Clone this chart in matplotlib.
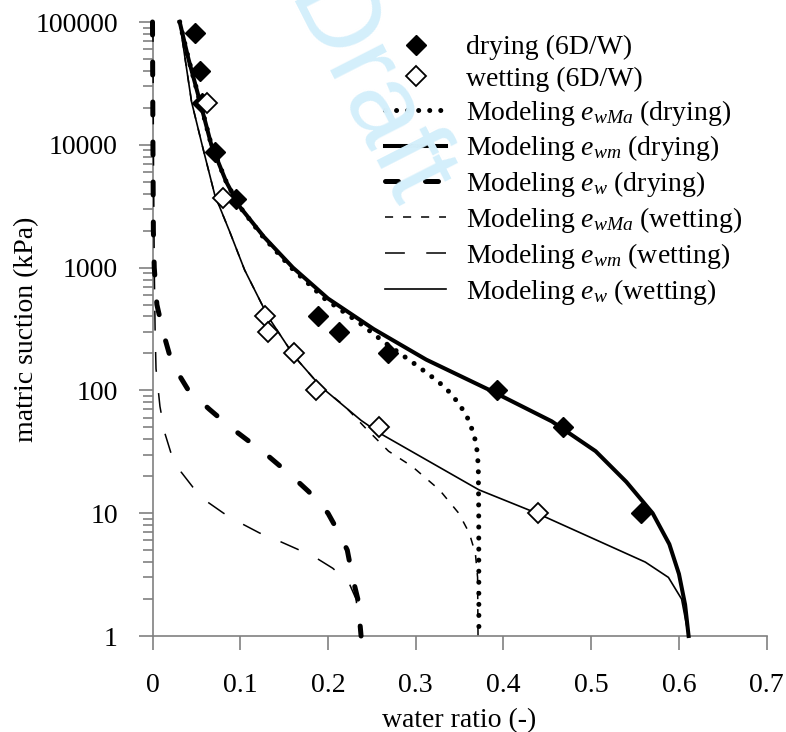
import matplotlib
matplotlib.use("Agg")
import matplotlib.pyplot as plt
from matplotlib.ticker import FixedLocator, LogLocator, NullFormatter

plt.rcParams['font.family'] = ['Liberation Serif', 'DejaVu Serif']
plt.rcParams['mathtext.fontset'] = 'custom'
plt.rcParams['mathtext.rm'] = 'Liberation Serif'
plt.rcParams['mathtext.it'] = 'Liberation Serif:italic'
plt.rcParams['font.size'] = 20

# ---- measured data ----
drying_x = [0.048, 0.054, 0.056, 0.071, 0.095, 0.189, 0.213, 0.268, 0.393, 0.468, 0.557]
drying_s = [81000, 40000, 22000, 8800, 3600, 400, 300, 200, 100, 50, 10]

wetting_x = [0.062, 0.0805, 0.128, 0.1316, 0.161, 0.186, 0.2585, 0.439]
wetting_s = [22000, 3700, 400, 300, 200, 100, 50, 10]

# Modeling e_wMa (drying)
ewma_dry_s = [100000, 50000, 20000, 10000, 5000, 3160, 1780, 1000, 560, 352, 244, 169, 118, 96, 76, 58, 43, 32, 24, 10, 1]
ewma_dry_x = [0.031, 0.041, 0.056, 0.067, 0.084, 0.099, 0.126, 0.158, 0.196, 0.2365, 0.265, 0.2965, 0.3257, 0.339, 0.3504, 0.360, 0.3667, 0.370, 0.3713, 0.3718, 0.372]

# Modeling e_wm (drying)
ewm_dry_s = [100000, 50000, 20000, 10000, 5000, 3160, 1780, 1000, 560, 316, 178, 100, 56, 32, 18, 10, 5.6, 3.2, 1.8, 1]
ewm_dry_x = [0.031, 0.041, 0.056, 0.067, 0.084, 0.099, 0.127, 0.160, 0.200, 0.252, 0.312, 0.385, 0.455, 0.505, 0.540, 0.570, 0.589, 0.600, 0.607, 0.611]

# Modeling e_w (drying)
ew_dry_s = [100000, 10000, 2000, 1000, 500, 300, 200, 150, 100, 70, 50, 30, 20, 15, 10, 7, 5, 3, 2, 1]
ew_dry_x = [0.000, 0.0005, 0.001, 0.002, 0.005, 0.012, 0.019, 0.026, 0.041, 0.065, 0.089, 0.130, 0.159, 0.178, 0.200, 0.212, 0.222, 0.228, 0.234, 0.2377]

# Modeling e_wMa (wetting)
ewma_wet_s = [100000, 50000, 22400, 10000, 3900, 1960, 956, 400, 188, 107, 74, 50, 32, 24, 15.5, 10, 6.9, 4.7, 3, 1]
ewma_wet_x = [0.031, 0.0372, 0.0445, 0.0565, 0.071, 0.088, 0.105, 0.1316, 0.162, 0.192, 0.2195, 0.242, 0.269, 0.296, 0.327, 0.349, 0.361, 0.368, 0.3705, 0.371]

# Modeling e_wm (wetting)
ewm_wet_s = [100000, 10000, 1000, 300, 150, 74, 45, 31, 21.7, 16.3, 12.3, 10, 8.2, 6.9, 5.9, 5.1, 4.3, 3.56, 2.7, 2.0, 1]
ewm_wet_x = [0.0005, 0.001, 0.002, 0.003, 0.004, 0.0085, 0.014, 0.021, 0.0325, 0.046, 0.063, 0.081, 0.102, 0.122, 0.145, 0.165, 0.187, 0.2055, 0.224, 0.232, 0.237]

# Modeling e_w (wetting)
ew_wet_s = [100000, 50000, 22400, 10000, 3900, 1960, 956, 400, 188, 107, 57, 45, 15.5, 10, 4, 3, 2, 1]
ew_wet_x = [0.031, 0.0372, 0.0445, 0.0565, 0.071, 0.088, 0.105, 0.1316, 0.162, 0.192, 0.2377, 0.2585, 0.372, 0.438, 0.5616, 0.588, 0.603, 0.611]

x_ticks = [0, 0.1, 0.2, 0.3, 0.4, 0.5, 0.6, 0.7]
x_ticklabels = ['0', '0.1', '0.2', '0.3', '0.4', '0.5', '0.6', '0.7']
y_ticks = [1, 10, 100, 1000, 10000, 100000]
y_ticklabels = ['1', '10', '100', '1000', '10000', '100000']

# ---- figure ----
W, H = 786, 732
fig = plt.figure(figsize=(W / 100, H / 100), dpi=100)
x0, x1, ytop, ybot = 152.5, 766.7, 22, 636
ax = fig.add_axes([x0 / W, 1 - ybot / H, (x1 - x0) / W, (ybot - ytop) / H])
ax.patch.set_alpha(0)

# watermark
fig.text(365 / W, 1 - 95 / H, 'Draft', rotation=-63, color='#d4effb', fontsize=80,
         family=['Liberation Sans'], ha='center', va='center', zorder=0)

ax.set_yscale('log')
ax.set_xlim(0, 0.7)
ax.set_ylim(1, 100000)

thick = 2.9
ax.plot(ewma_dry_x, ewma_dry_s, color='black', lw=3.6, linestyle=(0, (0.01, 2.2)),
        dash_capstyle='round', clip_on=False, label=r'Modeling $e_{wMa}$ (drying)', zorder=3)
ax.plot(ewm_dry_x, ewm_dry_s, color='black', lw=thick, clip_on=False,
        label=r'Modeling $e_{wm}$ (drying)', zorder=3)
ax.plot(ew_dry_x, ew_dry_s, color='black', lw=3.6, linestyle=(0, (2.6, 5.4)),
        dash_capstyle='round', clip_on=False, label=r'Modeling $e_{w}$ (drying)', zorder=3)
ax.plot(ewma_wet_x, ewma_wet_s, color='black', lw=1.1, linestyle=(0, (5.3, 6.5)),
        clip_on=False, label=r'Modeling $e_{wMa}$ (wetting)', zorder=3)
ax.plot(ewm_wet_x, ewm_wet_s, color='black', lw=1.1, linestyle=(0, (13, 14)),
        clip_on=False, label=r'Modeling $e_{wm}$ (wetting)', zorder=3)
ax.plot(ew_wet_x, ew_wet_s, color='black', lw=1.2, clip_on=False,
        label=r'Modeling $e_{w}$ (wetting)', zorder=3)

ax.plot(drying_x, drying_s, linestyle='none', marker='D', ms=10, mfc='black',
        mec='black', clip_on=False, label='drying (6D/W)', zorder=5)
ax.plot(wetting_x, wetting_s, linestyle='none', marker='D', ms=10, mfc='white',
        mec='black', mew=1.3, clip_on=False, label='wetting (6D/W)', zorder=5)

for s in ['top', 'right']:
    ax.spines[s].set_visible(False)
for s in ['left', 'bottom']:
    ax.spines[s].set_color('#808080')
    ax.spines[s].set_linewidth(1.2)

ax.xaxis.set_major_locator(FixedLocator(x_ticks))
ax.set_xticklabels(x_ticklabels)
ax.yaxis.set_major_locator(FixedLocator(y_ticks))
ax.set_yticklabels(y_ticklabels)
ax.yaxis.set_minor_locator(LogLocator(base=10, subs=range(2, 10), numticks=20))
ax.yaxis.set_minor_formatter(NullFormatter())
ax.tick_params(axis='both', which='major', length=10, width=1.2, color='#808080',
               labelsize=20, direction='out')
ax.tick_params(axis='y', which='major', pad=15)
ax.tick_params(axis='x', which='major', pad=17)
ax.tick_params(axis='y', which='minor', length=7, width=1.2, color='#808080')

ax.set_xlabel('water ratio (-)', fontsize=20, labelpad=7)
ax.set_ylabel('matric suction (kPa)', fontsize=20)
ax.yaxis.set_label_coords(-0.185, 0.5)

handles, labels = ax.get_legend_handles_labels()
order = [6, 7, 0, 1, 2, 3, 4, 5]
ax.legend([handles[i] for i in order], [labels[i] for i in order],
          loc='upper left', bbox_to_anchor=(385 / W, 1 - 35 / H),
          bbox_transform=fig.transFigure, frameon=False, borderpad=0,
          borderaxespad=0, handlelength=2.2, handletextpad=0.7,
          labelspacing=0.21, numpoints=1, fontsize=20)

fig.savefig('out.png', dpi=100)
